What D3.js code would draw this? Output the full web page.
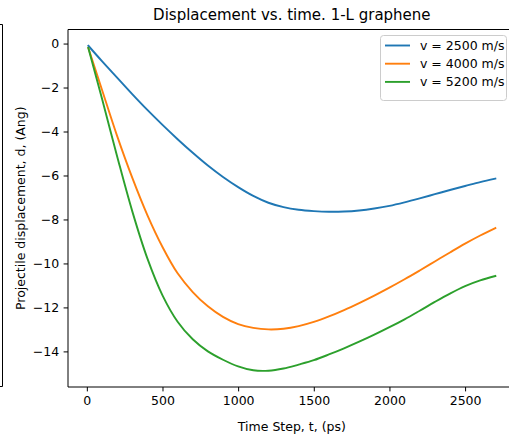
<!DOCTYPE html>
<html>
<head>
<meta charset="utf-8">
<script src="https://cdn.jsdelivr.net/npm/d3@7"></script>
<style>
  body { margin: 0; background: #fff; }
  svg { display: block; font-family: "DejaVu Sans", sans-serif; }
</style>
</head>
<body>
<svg id="chart" width="509" height="434"></svg>
<script>
// time steps (ps)
const timeSteps = [10, 100, 200, 300, 400, 500, 600, 700, 800, 900, 1000, 1100, 1200, 1300,
  1400, 1500, 1600, 1700, 1800, 1900, 2000, 2100, 2200, 2300, 2400, 2500, 2600, 2700];

// displacement (Ang) for each projectile speed
const disp2500 = [-0.1, -0.8, -1.55, -2.3, -3.02, -3.7, -4.35, -4.97, -5.55, -6.07, -6.53, -6.93, -7.24, -7.44,
  -7.56, -7.62, -7.65, -7.64, -7.59, -7.5, -7.38, -7.22, -7.04, -6.85, -6.66, -6.48, -6.3, -6.14];
const disp4000 = [-0.2, -2.1, -4.2, -6.1, -7.8, -9.25, -10.45, -11.3, -11.95, -12.43, -12.76, -12.93, -13.0, -12.97,
  -12.85, -12.66, -12.41, -12.12, -11.8, -11.46, -11.1, -10.72, -10.32, -9.91, -9.5, -9.1, -8.73, -8.39];
const disp5200 = [-0.2, -2.5, -5.12, -7.62, -9.77, -11.45, -12.65, -13.45, -14.0, -14.38, -14.68, -14.86, -14.88, -14.78,
  -14.6, -14.4, -14.14, -13.86, -13.56, -13.24, -12.9, -12.54, -12.15, -11.75, -11.37, -11.03, -10.77, -10.57];

const seriesNames = ["v = 2500 m/s", "v = 4000 m/s", "v = 5200 m/s"];
const seriesColors = ["#1f77b4", "#ff7f0e", "#2ca02c"];
const xTicks = [0, 500, 1000, 1500, 2000, 2500];
const yTicks = [0, -2, -4, -6, -8, -10, -12, -14];

const series = [disp2500, disp4000, disp5200].map((vals, i) => ({
  name: seriesNames[i],
  color: seriesColors[i],
  values: vals.map((v, j) => ({ t: timeSteps[j], d: v }))
}));

const margin = { top: 29.5, left: 68 };
const width = 447.7, height = 357.5;

const svg = d3.select("#chart");

// stray frame edge from a neighbouring figure
svg.append("path")
  .attr("d", "M-2,24.5H2.5V386.5H-2")
  .attr("fill", "none")
  .attr("stroke", "#000")
  .attr("stroke-width", 1);

const chart = svg.append("g").attr("transform", `translate(${margin.left},${margin.top})`);

// matplotlib style 5% margins
const xExt = d3.extent(timeSteps);
const xPad = (xExt[1] - xExt[0]) * 0.05;
const allD = [].concat(disp2500, disp4000, disp5200);
const yExt = d3.extent(allD);
const yPad = (yExt[1] - yExt[0]) * 0.05;

const xScale = d3.scaleLinear().domain([xExt[0] - xPad, xExt[1] + xPad]).range([0, width]);
const yScale = d3.scaleLinear().domain([yExt[0] - yPad, yExt[1] + yPad]).range([height, 0]);

const fmt = d => d < 0 ? "\u2212" + Math.abs(d) : String(d);

const xAxis = d3.axisBottom(xScale).tickValues(xTicks).tickFormat(d3.format("d"))
  .tickSizeInner(4.4).tickSizeOuter(0).tickPadding(4.4);
const yAxis = d3.axisLeft(yScale).tickValues(yTicks).tickFormat(fmt)
  .tickSizeInner(4.4).tickSizeOuter(0).tickPadding(4.4);

const xAxisG = chart.append("g")
  .attr("transform", `translate(0,${height})`)
  .call(xAxis);
const yAxisG = chart.append("g").call(yAxis);

[xAxisG, yAxisG].forEach(g => {
  g.selectAll("text").attr("font-size", 12.5).attr("fill", "#000").attr("font-family", "DejaVu Sans");
  g.selectAll("line").attr("stroke", "#000").attr("stroke-width", 1);
  g.select(".domain").remove();
});

// spines: left, top, bottom (right one is cut off)
chart.append("line").attr("x1", 0).attr("x2", 0).attr("y1", 0).attr("y2", height)
  .attr("stroke", "#000").attr("stroke-width", 1);
chart.append("line").attr("x1", 0).attr("x2", width).attr("y1", 0).attr("y2", 0)
  .attr("stroke", "#000").attr("stroke-width", 1);
chart.append("line").attr("x1", 0).attr("x2", width).attr("y1", height).attr("y2", height)
  .attr("stroke", "#000").attr("stroke-width", 1);

const line = d3.line()
  .x(d => xScale(d.t))
  .y(d => yScale(d.d))
  .curve(d3.curveCatmullRom.alpha(0.5));

chart.selectAll(".series")
  .data(series)
  .join("path")
  .attr("class", "series")
  .attr("fill", "none")
  .attr("stroke", d => d.color)
  .attr("stroke-width", 1.9)
  .attr("stroke-linejoin", "round")
  .attr("stroke-linecap", "square")
  .attr("d", d => line(d.values));

// title and axis labels
svg.append("text")
  .attr("x", margin.left + width / 2)
  .attr("y", 19.5)
  .attr("text-anchor", "middle")
  .attr("font-size", 15)
  .text("Displacement vs. time. 1-L graphene");

svg.append("text")
  .attr("x", margin.left + width / 2)
  .attr("y", 430.5)
  .attr("text-anchor", "middle")
  .attr("font-size", 12.5)
  .text("Time Step, t, (ps)");

svg.append("text")
  .attr("transform", `translate(24.5,${margin.top + height / 2}) rotate(-90)`)
  .attr("text-anchor", "middle")
  .attr("font-size", 12.5)
  .text("Projectile displacement, d, (Ang)");

// legend
const legend = svg.append("g").attr("transform", "translate(380,35)");
legend.append("rect")
  .attr("x", 0.5).attr("y", 0.5)
  .attr("width", 126).attr("height", 65)
  .attr("rx", 3)
  .attr("fill", "#fff").attr("fill-opacity", 0.8)
  .attr("stroke", "#ccc");

const items = legend.selectAll(".item")
  .data(series)
  .join("g")
  .attr("class", "item")
  .attr("transform", (d, i) => `translate(0,${10.5 + i * 18.2})`);
items.append("line")
  .attr("x1", 5).attr("x2", 30)
  .attr("stroke", d => d.color)
  .attr("stroke-width", 1.9);
items.append("text")
  .attr("x", 40)
  .attr("y", 4.5)
  .attr("font-size", 12.5)
  .text(d => d.name);
</script>
</body>
</html>
